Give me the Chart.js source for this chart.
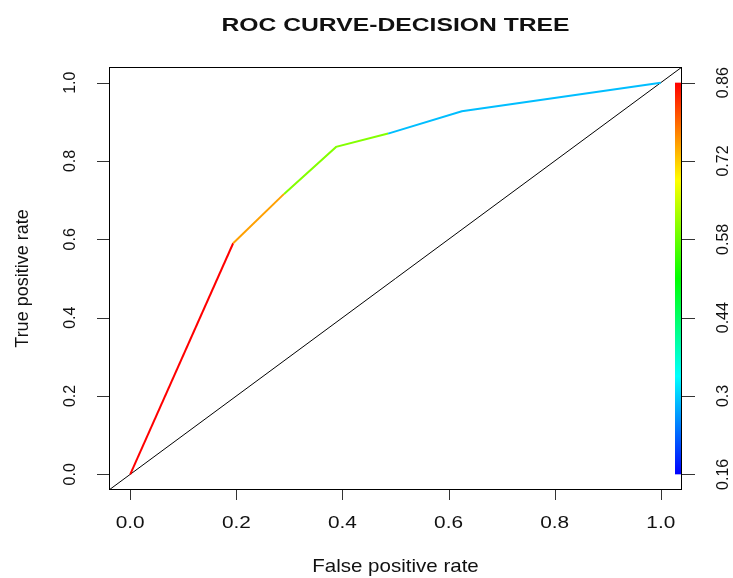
<!DOCTYPE html>
<html>
<head>
<meta charset="utf-8">
<script src="https://cdn.jsdelivr.net/npm/chart.js@4"></script>
<style>
  html, body { margin: 0; padding: 0; background: #fff; }
  canvas { display: block; }
</style>
</head>
<body>
<canvas id="chart" width="733" height="578"></canvas>
<script>
// ROC points of the decision tree and the cutoff used to colour each segment
const fpr = [0, 0.194, 0.290, 0.388, 0.486, 0.625, 1.0];
const tpr = [0, 0.590, 0.716, 0.836, 0.870, 0.927, 1.0];
const cutoffs = [0.86, 0.75, 0.60, 0.60, 0.29, 0.29];

const rateTicks = [0, 0.2, 0.4, 0.6, 0.8, 1.0];
const cutoffTicks = [0.16, 0.30, 0.44, 0.58, 0.72, 0.86];

const axisMin = -0.04, axisMax = 1.04;
const cMin = cutoffTicks[0], cMax = cutoffTicks[cutoffTicks.length - 1];
const cPad = (cMax - cMin) * 0.04;

const FONT = '"Liberation Sans", Arial, sans-serif';

// rainbow: blue at the lowest cutoff, red at the highest
function cutoffColor(c) {
  const t = Math.min(1, Math.max(0, (c - cMin) / (cMax - cMin)));
  return 'hsl(' + (240 * (1 - t)).toFixed(1) + ',100%,50%)';
}

function text(ctx, s, x, y, font, sx, rotate) {
  ctx.save();
  ctx.translate(x, y);
  ctx.scale(sx, 1);
  if (rotate) ctx.rotate(-Math.PI / 2);
  ctx.font = font;
  ctx.fillStyle = '#111';
  ctx.textAlign = 'center';
  ctx.textBaseline = 'alphabetic';
  ctx.fillText(s, 0, 0);
  ctx.restore();
}

const rFrame = {
  id: 'rFrame',
  beforeDatasetsDraw(chart) {
    const ctx = chart.ctx, a = chart.chartArea, cut = chart.scales.cut;
    const y0 = cut.getPixelForValue(cMin), y1 = cut.getPixelForValue(cMax);
    const g = ctx.createLinearGradient(0, y0, 0, y1);
    for (let i = 0; i <= 24; i++) {
      g.addColorStop(i / 24, cutoffColor(cMin + (cMax - cMin) * i / 24));
    }
    ctx.save();
    ctx.fillStyle = g;
    ctx.fillRect(a.right - 7, y1, 7, y0 - y1);
    ctx.restore();
  },
  afterDraw(chart) {
    const ctx = chart.ctx, a = chart.chartArea;
    const x = chart.scales.x, y = chart.scales.y, cut = chart.scales.cut;
    ctx.save();
    ctx.strokeStyle = '#000';
    ctx.lineWidth = 1;
    ctx.strokeRect(a.left + 0.5, a.top + 0.5, a.right - a.left - 1, a.bottom - a.top - 1);

    ctx.strokeStyle = '#333';
    ctx.beginPath();
    rateTicks.forEach(v => {
      const px = Math.round(x.getPixelForValue(v)) + 0.5;
      ctx.moveTo(px, a.bottom); ctx.lineTo(px, a.bottom + 10);
      const py = Math.round(y.getPixelForValue(v)) + 0.5;
      ctx.moveTo(a.left, py); ctx.lineTo(a.left - 12, py);
    });
    cutoffTicks.forEach(v => {
      const py = Math.round(cut.getPixelForValue(v)) + 0.5;
      ctx.moveTo(a.right, py); ctx.lineTo(a.right + 13, py);
    });
    ctx.stroke();
    ctx.restore();

    rateTicks.forEach(v => {
      text(ctx, v.toFixed(1), x.getPixelForValue(v), 528, '16px ' + FONT, 1.3, false);
      text(ctx, v.toFixed(1), 75, y.getPixelForValue(v), '16px ' + FONT, 1, true);
    });
    cutoffTicks.forEach(v => {
      text(ctx, String(v), 728, cut.getPixelForValue(v), '16px ' + FONT, 1, true);
    });

    const cx = (a.left + a.right) / 2;
    text(ctx, 'ROC CURVE-DECISION TREE', cx, 30.5, 'bold 19px ' + FONT, 1.3, false);
    text(ctx, 'False positive rate', cx, 571.5, '19px ' + FONT, 1.08, false);
    text(ctx, 'True positive rate', 28, (a.top + a.bottom) / 2, '18px ' + FONT, 1, true);
  }
};

new Chart(document.getElementById('chart'), {
  type: 'scatter',
  data: {
    datasets: [
      {
        data: fpr.map((v, i) => ({ x: v, y: tpr[i] })),
        showLine: true,
        borderWidth: 2,
        borderColor: cutoffColor(cutoffs[0]),
        segment: { borderColor: s => cutoffColor(cutoffs[s.p0DataIndex]) },
        pointRadius: 0,
        yAxisID: 'y'
      },
      {
        data: [{ x: axisMin, y: axisMin }, { x: axisMax, y: axisMax }],
        showLine: true,
        borderWidth: 1,
        borderColor: '#000',
        pointRadius: 0,
        yAxisID: 'y'
      }
    ]
  },
  options: {
    responsive: false,
    animation: false,
    devicePixelRatio: 1,
    layout: { padding: { left: 109, right: 51, top: 67, bottom: 88 } },
    plugins: { legend: { display: false }, tooltip: { enabled: false } },
    scales: {
      x: { type: 'linear', min: axisMin, max: axisMax, display: false },
      y: { type: 'linear', min: axisMin, max: axisMax, display: false },
      cut: { type: 'linear', position: 'right', min: cMin - cPad, max: cMax + cPad, display: false }
    }
  },
  plugins: [rFrame]
});
</script>
</body>
</html>
